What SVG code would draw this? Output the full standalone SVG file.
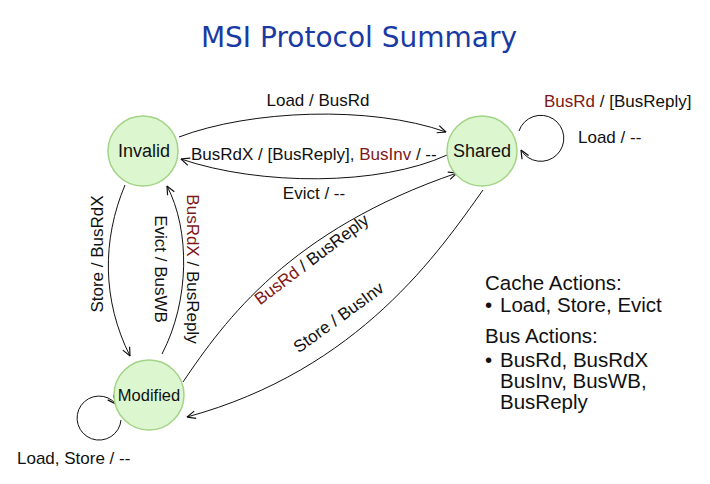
<svg xmlns="http://www.w3.org/2000/svg" width="710" height="484" viewBox="0 0 710 484">
<style>
.node circle{fill:#dcf7d0;stroke:#a3d486;stroke-width:1.5}
.node text{font-family:"Liberation Sans",Arial,sans-serif;fill:#111;text-anchor:middle}
.edge{fill:none;stroke:#111;stroke-width:1;marker-end:url(#arr)}
.lbl{font-family:"Liberation Sans",Arial,sans-serif;font-size:17px;fill:#111}
.red{fill:#801818}
.leg{font-family:"Liberation Sans",Arial,sans-serif;font-size:20.5px;fill:#111}
</style>
<defs>
<marker id="arr" markerUnits="userSpaceOnUse" viewBox="0 0 10 10" refX="9.5" refY="5" markerWidth="10" markerHeight="10" orient="auto">
<path d="M1,1.2 L9.5,5 L1,8.8" fill="none" stroke="#111" stroke-width="1.2"/>
</marker>
</defs>
<rect width="710" height="484" fill="#fff"/>
<text x="359" y="47" font-family="'DejaVu Sans',sans-serif" font-size="28" fill="#1a3aa3" text-anchor="middle">MSI Protocol Summary</text>
<g id="connectors">
<path class="edge" d="M179,137 C250,110 370,105 446,132"/>
<path class="edge" d="M447,155 C380,186 260,186 181,159"/>
<path class="edge" d="M183,382 C225,320 290,230 457,173"/>
<path class="edge" d="M483,190 C440,250 360,370 187,417"/>
<path class="edge" d="M125,185 C102,240 102,300 130,356"/>
<path class="edge" d="M162,354 C190,300 190,230 167,186"/>
<path class="edge" d="M519,131 A23,23 0 1 1 521,150"/>
<path class="edge" d="M121,420 A22,22 0 1 1 116,404"/>
<text class="lbl" x="318" y="106" text-anchor="middle">Load / BusRd</text>
<text class="lbl" x="191" y="160">BusRdX / [BusReply], <tspan class="red">BusInv</tspan> / --</text>
<text class="lbl" x="314" y="199" text-anchor="middle">Evict / --</text>
<text class="lbl" text-anchor="middle" transform="translate(315,264) rotate(-37)"><tspan class="red">BusRd</tspan> / BusReply</text>
<text class="lbl" text-anchor="middle" transform="translate(342,322) rotate(-36)">Store / BusInv</text>
<text class="lbl" text-anchor="middle" transform="translate(103,254) rotate(-90)">Store / BusRdX</text>
<text class="lbl" text-anchor="middle" transform="translate(155,269) rotate(90)">Evict / BusWB</text>
<text class="lbl" text-anchor="middle" transform="translate(187,269) rotate(90)"><tspan class="red">BusRdX</tspan> / BusReply</text>
<text class="lbl" x="544" y="107"><tspan class="red">BusRd</tspan> / [BusReply]</text>
<text class="lbl" x="578" y="143">Load / --</text>
<text class="lbl" x="17" y="464">Load, Store / --</text>
</g>
<g id="invalid" class="node"><circle cx="143" cy="151" r="35"/><text x="144" y="157" font-size="18">Invalid</text></g>
<g id="shared" class="node"><circle cx="482" cy="151" r="35"/><text x="482" y="157" font-size="18">Shared</text></g>
<g id="modified" class="node"><circle cx="149" cy="395" r="35"/><text x="149" y="401" font-size="16.5">Modified</text></g>
<g id="legend">
<text class="leg" x="485" y="290">Cache Actions:</text>
<text class="leg" x="485" y="312">•</text>
<text class="leg" x="500" y="312">Load, Store, Evict</text>
<text class="leg" x="485" y="343">Bus Actions:</text>
<text class="leg" x="485" y="367">•</text>
<text class="leg" x="500" y="367">BusRd, BusRdX</text>
<text class="leg" x="500" y="388">BusInv, BusWB,</text>
<text class="leg" x="500" y="409">BusReply</text>
</g>
</svg>
